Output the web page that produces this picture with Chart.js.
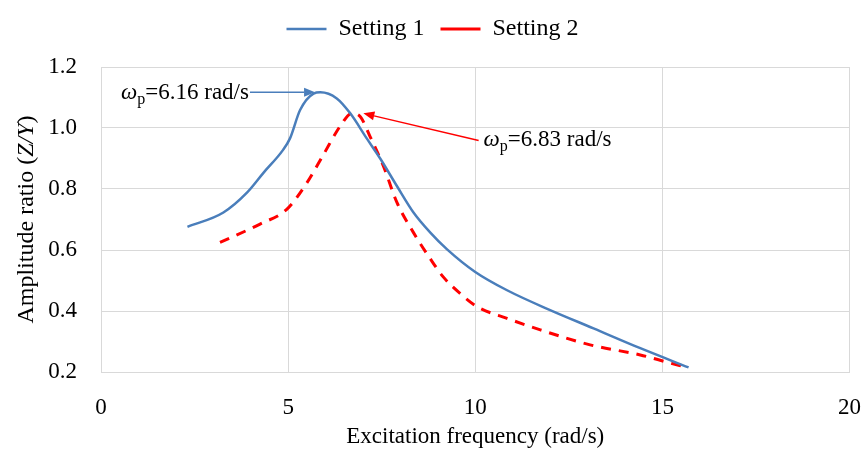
<!DOCTYPE html>
<html>
<head>
<meta charset="utf-8">
<script src="https://cdn.jsdelivr.net/npm/chart.js@4.4.0/dist/chart.umd.min.js"></script>
<style>
  html, body { margin: 0; padding: 0; background: #fff; }
  #wrap { width: 865px; height: 455px; }
</style>
</head>
<body>
<div id="wrap"><canvas id="chartCanvas" width="865" height="455"></canvas></div>
<script>
// Setting 1 (solid blue)
const freq1 = [2.31, 3.27, 3.90, 4.34, 4.87, 5.05, 5.32, 5.68, 5.86, 6.30, 6.66, 7.10, 7.46, 7.91, 8.35, 8.80, 9.24, 10.0, 10.85, 12.0, 13.16, 14.41, 15.70];
const ratio1 = [0.676, 0.723, 0.788, 0.853, 0.929, 0.966, 1.059, 1.113, 1.117, 1.097, 1.048, 0.966, 0.900, 0.809, 0.723, 0.657, 0.603, 0.528, 0.468, 0.403, 0.343, 0.278, 0.215];
// Setting 2 (dashed red)
const freq2 = [3.18, 4.25, 4.97, 5.50, 5.94, 6.44, 6.70, 6.93, 7.19, 7.55, 7.91, 8.35, 8.80, 9.15, 9.60, 10.05, 10.85, 11.74, 13.07, 14.41, 15.13, 15.62];
const ratio2 = [0.625, 0.685, 0.734, 0.820, 0.912, 1.015, 1.048, 1.037, 0.972, 0.874, 0.755, 0.657, 0.571, 0.511, 0.457, 0.414, 0.376, 0.338, 0.289, 0.256, 0.232, 0.216];

const seriesNames = ["Setting 1", "Setting 2"];
const xTicks = [0, 5, 10, 15, 20];
const yTicks = [0.2, 0.4, 0.6, 0.8, 1.0, 1.2];
const peakLabels = ["6.16", "6.83"];

const serif = '"Liberation Serif", "Times New Roman", serif';
const blue = "#4a7ebb";
const red = "#ff0000";
const gridColor = "#d9d9d9";

function toPoints(xs, ys) {
    return xs.map((x, i) => ({ x: x, y: ys[i] }));
}

// arrow notes for the peaks, in data units
const notes = [
    { text: peakLabels[0], from: [3.98, 1.117], to: [5.72, 1.117], color: blue, side: "left" },
    { text: peakLabels[1], from: [10.09, 0.959], to: [7.01, 1.048], color: red, side: "right" }
];

function drawOmega(ctx, x, y, value, alignRight) {
    const big = "23px " + serif;
    const small = "16px " + serif;
    const rest = "=" + value + " rad/s";
    ctx.font = "italic " + big;
    const w1 = ctx.measureText("\u03c9").width;
    ctx.font = small;
    const w2 = ctx.measureText("p").width;
    ctx.font = big;
    const w3 = ctx.measureText(rest).width;
    let sx = alignRight ? x - (w1 + w2 + w3) : x;
    ctx.fillStyle = "#000";
    ctx.textAlign = "left";
    ctx.textBaseline = "alphabetic";
    ctx.font = "italic " + big;
    ctx.fillText("\u03c9", sx, y + 7);
    ctx.font = small;
    ctx.fillText("p", sx + w1, y + 12);
    ctx.font = big;
    ctx.fillText(rest, sx + w1 + w2, y + 7);
}

// push the plot down below the legend
const legendGap = {
    id: "legendGap",
    beforeInit(chart) {
        const fit = chart.legend.fit;
        chart.legend.fit = function () {
            fit.bind(chart.legend)();
            this.height += 16;
        };
    }
};

const notesPlugin = {
    id: "notes",
    afterDatasetsDraw(chart) {
        const ctx = chart.ctx;
        const xs = chart.scales.x, ys = chart.scales.y;
        ctx.save();
        notes.forEach(n => {
            const x0 = xs.getPixelForValue(n.from[0]), y0 = ys.getPixelForValue(n.from[1]);
            const x1 = xs.getPixelForValue(n.to[0]), y1 = ys.getPixelForValue(n.to[1]);
            const ang = Math.atan2(y1 - y0, x1 - x0);
            const len = 11, half = 4.5;
            const bx = x1 - len * Math.cos(ang), by = y1 - len * Math.sin(ang);
            ctx.strokeStyle = n.color;
            ctx.fillStyle = n.color;
            ctx.lineWidth = 1.5;
            ctx.setLineDash([]);
            ctx.beginPath();
            ctx.moveTo(x0, y0);
            ctx.lineTo(bx, by);
            ctx.stroke();
            ctx.beginPath();
            ctx.moveTo(x1, y1);
            ctx.lineTo(bx + half * Math.sin(ang), by - half * Math.cos(ang));
            ctx.lineTo(bx - half * Math.sin(ang), by + half * Math.cos(ang));
            ctx.closePath();
            ctx.fill();
            if (n.side === "left") drawOmega(ctx, x0 - 1, y0, n.text, true);
            else drawOmega(ctx, x0 + 5, y0 - 2, n.text, false);
        });
        ctx.restore();
    },
    afterDraw(chart) {
        // y axis title, with Z/Y in italics
        const ctx = chart.ctx;
        const area = chart.chartArea;
        const parts = [["Amplitude ratio (", ""], ["Z/Y", "italic "], [")", ""]];
        ctx.save();
        ctx.translate(27, (area.top + area.bottom) / 2);
        ctx.rotate(-Math.PI / 2);
        ctx.fillStyle = "#000";
        ctx.textBaseline = "middle";
        ctx.textAlign = "left";
        let total = 0;
        parts.forEach(p => { ctx.font = p[1] + "24px " + serif; total += ctx.measureText(p[0]).width; });
        let cx = -total / 2;
        parts.forEach(p => {
            ctx.font = p[1] + "24px " + serif;
            ctx.fillText(p[0], cx, 0);
            cx += ctx.measureText(p[0]).width;
        });
        ctx.restore();
    }
};

const ctx = document.getElementById("chartCanvas").getContext("2d");
new Chart(ctx, {
    type: "line",
    data: {
        datasets: [{
            label: seriesNames[0],
            data: toPoints(freq1, ratio1),
            borderColor: blue,
            backgroundColor: blue,
            borderWidth: 2.5,
            pointRadius: 0,
            pointStyle: "line",
            cubicInterpolationMode: "monotone",
            fill: false
        }, {
            label: seriesNames[1],
            data: toPoints(freq2, ratio2),
            borderColor: red,
            backgroundColor: red,
            borderWidth: 3,
            borderDash: [10, 8],
            pointRadius: 0,
            pointStyle: "line",
            cubicInterpolationMode: "monotone",
            fill: false
        }]
    },
    options: {
        responsive: false,
        animation: false,
        layout: { padding: { top: 1, right: 0, left: 0, bottom: 0 } },
        plugins: {
            legend: {
                position: "top",
                labels: {
                    usePointStyle: true,
                    pointStyleWidth: 40,
                    padding: 16,
                    color: "#000",
                    font: { family: serif, size: 24 }
                }
            },
            tooltip: { enabled: false }
        },
        scales: {
            x: {
                type: "linear",
                min: 0,
                max: 20,
                afterBuildTicks: s => { s.ticks = xTicks.map(v => ({ value: v })); },
                afterFit: s => { s.height = 83; },
                grid: { color: gridColor, drawTicks: true, tickLength: 18, tickColor: "rgba(0,0,0,0)" },
                border: { color: gridColor },
                ticks: { color: "#000", padding: 4, font: { family: serif, size: 23 } },
                title: {
                    display: true,
                    text: "Excitation frequency (rad/s)",
                    color: "#000",
                    font: { family: serif, size: 23 },
                    padding: { top: 0, bottom: 4 }
                }
            },
            y: {
                min: 0.2,
                max: 1.2,
                afterBuildTicks: s => { s.ticks = yTicks.map(v => ({ value: v })); },
                afterFit: s => { s.width = 101; },
                grid: { color: gridColor, drawTicks: false },
                border: { color: gridColor },
                ticks: {
                    color: "#000",
                    padding: 24,
                    font: { family: serif, size: 23 },
                    callback: v => Number(v).toFixed(1)
                }
            }
        }
    },
    plugins: [legendGap, notesPlugin]
});
</script>
</body>
</html>
